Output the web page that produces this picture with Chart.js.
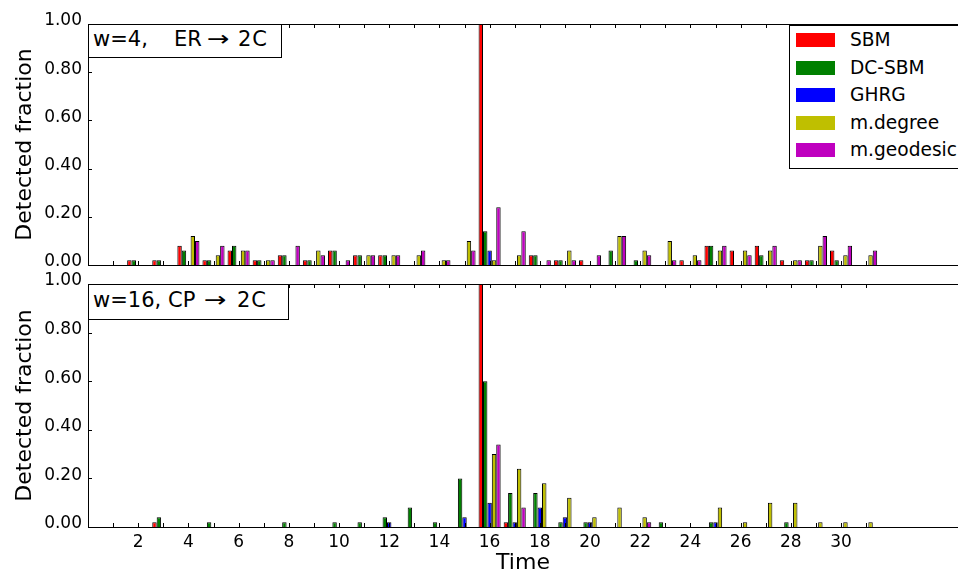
<!DOCTYPE html>
<html><head><meta charset="utf-8">
<script src="https://cdn.jsdelivr.net/npm/chart.js@4/dist/chart.umd.min.js"></script>
<style>
html,body{margin:0;padding:0;background:#fff;}
body{width:958px;height:576px;overflow:hidden;position:relative;font-family:"DejaVu Sans",sans-serif;color:#000;}
canvas{position:absolute;left:0;}
#c1{top:0;}
#c2{top:270px;}
.box{position:absolute;box-sizing:border-box;border:1px solid #000;background:#fff;}
.piece{position:absolute;font-size:21px;line-height:21px;white-space:pre;}
.arrow{display:inline-block;transform-origin:0 50%;transform:scaleX(1.28);}
#legend{position:absolute;left:789px;top:25px;width:200px;height:144px;box-sizing:border-box;border:1px solid #000;background:#fff;}
.lpatch{position:absolute;left:6px;width:39px;height:14px;}
.ltext{position:absolute;left:60px;font-size:18.6px;line-height:19px;white-space:pre;}
</style>
</head><body>
<canvas id="c1" width="958" height="270"></canvas>
<canvas id="c2" width="958" height="306"></canvas>
<div class="box" id="lab1" style="left:88px;top:24px;width:194px;height:34px;">
  <span class="piece" style="left:4px;top:4px;">w=4,</span>
  <span class="piece" style="left:85px;top:4px;">ER</span>
  <span class="piece" style="left:118px;top:4px;"><span class="arrow">→</span></span>
  <span class="piece" style="left:149px;top:4px;letter-spacing:1px;">2C</span>
</div>
<div class="box" id="lab2" style="left:88px;top:284px;width:201px;height:36px;">
  <span class="piece" style="left:4px;top:5px;">w=16,</span>
  <span class="piece" style="left:79px;top:5px;">CP</span>
  <span class="piece" style="left:115px;top:5px;"><span class="arrow">→</span></span>
  <span class="piece" style="left:148px;top:5px;letter-spacing:1px;">2C</span>
</div>
<div id="legend"></div>
<script>
// ---- data ----
const times = [1,2,3,4,5,6,7,8,9,10,11,12,13,14,15,16,17,18,19,20,21,22,23,24,25,26,27,28,29,30,31];
const seriesNames = ['SBM','DC-SBM','GHRG','m.degree','m.geodesic'];
const seriesColors = ['#ff0000','#008000','#0000ff','#bfbf00','#bf00bf'];

// top panel: w=4, ER -> 2C
const topSBM      = [0,.02,.02,.08,.02,.06,.02,.04,.02,.06,.04,.04,0,0,0,1.0,0,.04,.02,.02,0,0,0,.02,.08,.06,.08,.02,.02,.06,0];
const topDCSBM    = [0,.02,.02,.06,.02,.08,.02,.04,.02,.06,.04,.04,0,0,0,.14,0,.04,.02,0,.06,.02,0,0,.08,0,.04,0,.02,.02,0];
const topGHRG     = [0,0,0,0,0,0,0,0,0,0,0,0,0,0,0,.06,0,0,0,0,0,0,0,0,0,0,0,0,0,0,0];
const topDegree   = [0,0,0,.12,.04,.06,.02,0,.06,0,.04,.04,.04,.02,.10,.02,.04,0,.06,0,.12,.06,.10,.04,.06,.06,.06,.02,.08,.04,.04];
const topGeodesic = [0,0,0,.10,.08,.06,.02,.08,.04,.02,.04,.04,.06,.02,.06,.24,.14,.02,.02,.04,.12,.04,.02,.02,.08,.04,.08,.02,.12,.08,.06];

// bottom panel: w=16, CP -> 2C
const botSBM      = [0,0,.02,0,0,0,0,0,0,0,0,0,0,0,0,1.0,.02,0,0,0,0,0,0,0,0,0,0,0,0,0,0];
const botDCSBM    = [0,0,.04,0,.02,0,0,.02,0,.02,.02,.04,.08,.02,.20,.60,.14,.14,.02,.02,0,0,.02,0,.02,0,0,.02,0,0,0];
const botGHRG     = [0,0,0,0,0,0,0,0,0,0,0,.02,0,0,.04,.10,.02,.08,.04,.02,0,0,0,0,.02,0,0,0,0,0,0];
const botDegree   = [0,0,0,0,0,0,0,0,0,0,0,0,0,0,0,.30,.24,.18,.12,.04,.08,.04,0,0,.08,.02,.10,.10,.02,.02,.02];
const botGeodesic = [0,0,0,0,0,0,0,0,0,0,0,0,0,0,0,.34,.08,0,0,0,0,.02,0,0,0,0,0,0,0,0,0];

const xTickLabels = [2,4,6,8,10,12,14,16,18,20,22,24,26,28,30];
const yTickValues = [0,0.2,0.4,0.6,0.8,1.0];
const xMin = 0, xMax = 34.66;

// ---- legend ----
const legend = document.getElementById('legend');
seriesNames.forEach((n,i)=>{
  const cy = 15 + i*27.6 - 1;
  const p = document.createElement('div');
  p.className='lpatch'; p.style.top=(cy-7)+'px'; p.style.background=seriesColors[i];
  const t = document.createElement('div');
  t.className='ltext'; t.style.top=(cy-10)+'px'; t.textContent=n;
  legend.appendChild(p); legend.appendChild(t);
});

// ---- charts ----
const framePlugin = {
  id:'frame',
  afterDatasetsDraw(chart){
    const {ctx, chartArea:a, scales:{x,y}} = chart;
    ctx.save();
    ctx.strokeStyle='#000'; ctx.lineWidth=1;
    ctx.beginPath();
    ctx.moveTo(a.left+0.5, a.top); ctx.lineTo(a.left+0.5, a.bottom+1);
    ctx.moveTo(a.left, a.top+0.5); ctx.lineTo(a.right, a.top+0.5);
    ctx.moveTo(a.left, a.bottom+0.5); ctx.lineTo(a.right, a.bottom+0.5);
    times.forEach(v=>{
      const px = Math.round(x.getPixelForValue(v))+0.5;
      ctx.moveTo(px, a.bottom); ctx.lineTo(px, a.bottom-4);
      ctx.moveTo(px, a.top); ctx.lineTo(px, a.top+4);
    });
    yTickValues.forEach(v=>{
      const py = Math.round(y.getPixelForValue(v))+0.5;
      ctx.moveTo(a.left, py); ctx.lineTo(a.left+4, py);
    });
    ctx.stroke();
    ctx.restore();
  }
};

function makeDatasets(arrs){
  return arrs.map((arr,i)=>({
    label: seriesNames[i],
    data: times.map((t,j)=>({x:t, y:arr[j]})),
    backgroundColor: seriesColors[i],
    borderColor:'#000',
    borderWidth:1,
    categoryPercentage:0.88,
    barPercentage:1.0
  }));
}

function makeChart(id, arrs, showX, pad){
  return new Chart(document.getElementById(id), {
    type:'bar',
    data:{datasets: makeDatasets(arrs)},
    options:{
      responsive:false, animation:false,
      layout:{padding:pad},
      plugins:{legend:{display:false}, tooltip:{enabled:false}},
      scales:{
        x:{
          type:'linear', min:xMin, max:xMax, offset:false, display:true,
          grid:{display:false, drawTicks:false, tickLength:0}, border:{display:false},
          afterBuildTicks(s){ s.ticks = xTickLabels.map(v=>({value:v})); },
          afterFit(s){ s.height = showX ? 49 : 0; s.paddingLeft = 0; s.paddingRight = 0; },
          ticks:{display:showX, padding:5, color:'#000', font:{family:'DejaVu Sans', size:17}, maxRotation:0, autoSkip:false,
                 callback:(v)=>String(v)},
          title:{display:showX, text:'Time', color:'#000', font:{family:'DejaVu Sans', size:22}, padding:{top:0,bottom:0}}
        },
        y:{
          min:0, max:1,
          grid:{display:false, drawTicks:false, tickLength:0}, border:{display:false},
          afterBuildTicks(s){ s.ticks = yTickValues.map(v=>({value:v})); },
          afterFit(s){ s.width = 88; s.paddingTop = 0; s.paddingBottom = 0; },
          ticks:{padding:6, labelOffset:-3, color:'#000', font:{family:'DejaVu Sans', size:17},
                 callback:(v)=>Number(v).toFixed(2)},
          title:{display:true, text:'Detected fraction', color:'#000', font:{family:'DejaVu Sans', size:22}, padding:{top:12,bottom:0}}
        }
      }
    },
    plugins:[framePlugin]
  });
}

makeChart('c1', [topSBM, topDCSBM, topGHRG, topDegree, topGeodesic], false, {top:24, bottom:5, left:0, right:0});
makeChart('c2', [botSBM, botDCSBM, botGHRG, botDegree, botGeodesic], true, {top:14, bottom:0, left:0, right:0});
</script>
</body></html>
